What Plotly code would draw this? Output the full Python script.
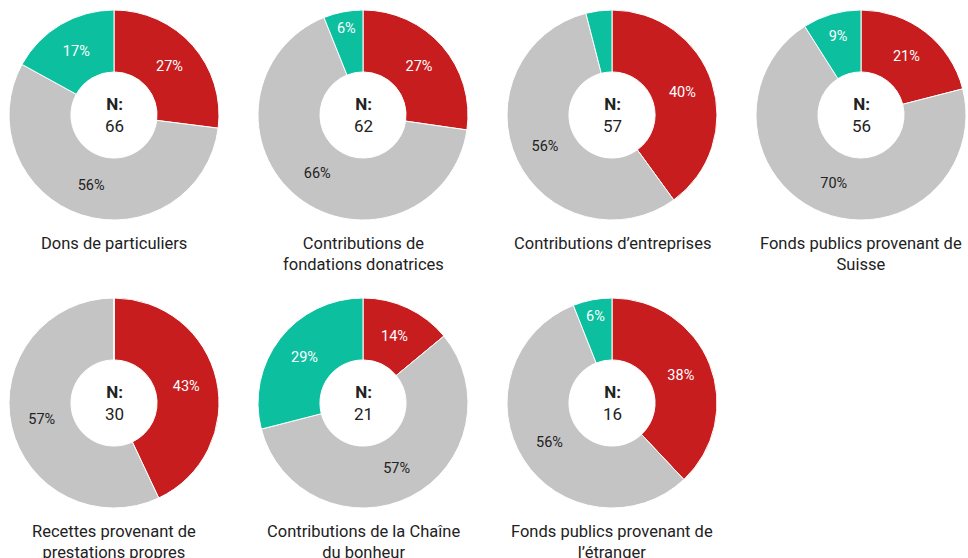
import plotly.graph_objects as go

titles = [
    "Dons de particuliers",
    "Contributions de<br>fondations donatrices",
    "Contributions d’entreprises",
    "Fonds publics provenant de<br>Suisse",
    "Recettes provenant de<br>prestations propres",
    "Contributions de la Chaîne<br>du bonheur",
    "Fonds publics provenant de<br>l’étranger",
]
n_values = [66, 62, 57, 56, 30, 21, 16]
red_vals = [27, 27, 40, 21, 43, 14, 38]
grey_vals = [56, 66, 56, 70, 57, 57, 56]
teal_vals = [17, 6, 4, 9, 0, 29, 6]
show_teal_label = [True, True, False, True, False, True, True]

colors = ["#c81d1f", "#c4c4c4", "#0cbf9f"]
text_colors = ["#ffffff", "#222222", "#ffffff"]

W, H = 968, 558
centers_x = [114, 363, 612, 861]
centers_y = [115, 403]
R = 105

fig = go.Figure()
annotations = []
for i in range(7):
    row, col = divmod(i, 4)
    cx, cy = centers_x[col], centers_y[row]
    x0, x1 = (cx - R) / W, (cx + R) / W
    y0, y1 = 1 - (cy + R) / H, 1 - (cy - R) / H
    vals = [red_vals[i], grey_vals[i], teal_vals[i]]
    txt = [f"{v}%" if v > 0 else "" for v in vals]
    if not show_teal_label[i]:
        txt[2] = ""
    fig.add_trace(go.Pie(
        values=vals,
        labels=["A", "B", "C"],
        text=txt,
        textinfo="text",
        textposition="inside",
        insidetextorientation="horizontal",
        textfont=dict(family="Roboto", size=14.5, color=text_colors),
        sort=False,
        direction="clockwise",
        rotation=0,
        hole=0.41,
        marker=dict(colors=colors, line=dict(color="#ffffff", width=1)),
        domain=dict(x=[x0, x1], y=[y0, y1]),
        showlegend=False,
        hoverinfo="skip",
    ))
    annotations.append(dict(
        x=cx / W, y=1 - cy / H, xref="paper", yref="paper",
        xanchor="center", yanchor="middle",
        text=f"<b>N:</b><br>{n_values[i]}", showarrow=False,
        font=dict(family="Roboto", size=17, color="#222222"),
        align="center",
    ))
    annotations.append(dict(
        x=cx / W, y=1 - (cy + R + 12) / H, xref="paper", yref="paper",
        xanchor="center", yanchor="top",
        text=titles[i], showarrow=False,
        font=dict(family="Roboto", size=16.5, color="#222222"),
        align="center",
    ))

fig.update_layout(
    width=W, height=H,
    margin=dict(l=0, r=0, t=0, b=0),
    paper_bgcolor="white", plot_bgcolor="white",
    annotations=annotations,
    font=dict(family="Roboto"),
)
fig.write_html(
    "out.html",
    config={"displayModeBar": False},
    post_script="document.body.style.margin='0';document.body.style.overflow='hidden';",
)
